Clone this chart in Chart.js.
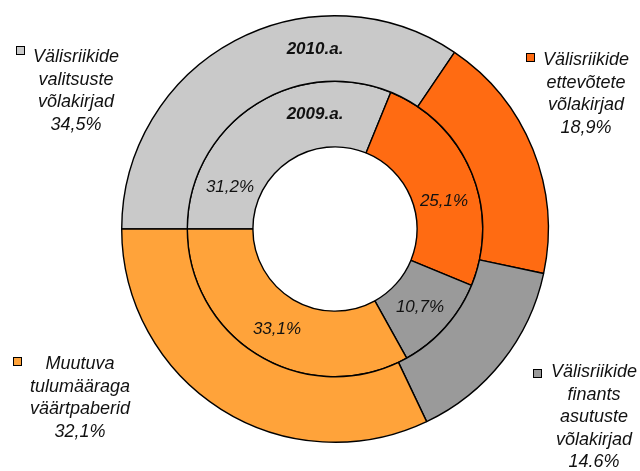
<!DOCTYPE html>
<html>
<head>
<meta charset="utf-8">
<script src="https://cdn.jsdelivr.net/npm/chart.js@4/dist/chart.umd.min.js"></script>
<style>
  html, body { margin: 0; padding: 0; background: #fff; }
  #wrap { width: 640px; height: 471px; }
</style>
</head>
<body>
<div id="wrap"><canvas id="chart" width="640" height="471"></canvas></div>
<script>
// data
const years = ['2010.a.', '2009.a.'];
const categories = [
  ['Välisriikide', 'valitsuste', 'võlakirjad'],
  ['Välisriikide', 'ettevõtete', 'võlakirjad'],
  ['Välisriikide', 'finants', 'asutuste', 'võlakirjad'],
  ['Muutuva', 'tulumääraga', 'väärtpaberid']
];
const values2010 = [34.5, 18.9, 14.6, 32.1];
const values2009 = [31.2, 25.1, 10.7, 33.1];
const labels2010 = ['34,5%', '18,9%', '14.6%', '32,1%'];
const labels2009 = ['31,2%', '25,1%', '10,7%', '33,1%'];
const colors = ['#C9C9C9', '#FF6B12', '#9A9A9A', '#FFA33A'];

const FONT = '"Liberation Sans", Arial, sans-serif';

// where excel put the text (outer captions in canvas px, inner ones relative to centre)
const captionPos = [
  { marker: [16, 46], x: 76, y: 62 },
  { marker: [526, 53], x: 586, y: 65 },
  { marker: [533, 369], x: 594, y: 377 },
  { marker: [13, 357], x: 80, y: 369 }
];
const innerPos = [[-105, -37], [109, -23], [85, 83], [-58, 105]];
const yearPos = [[-20, -175], [-20, -110]];

const textPlugin = {
  id: 'texts',
  afterDatasetsDraw(chart) {
    const ctx = chart.ctx;
    const arc = chart.getDatasetMeta(0).data[0];
    const cx = arc.x, cy = arc.y;
    ctx.save();
    ctx.fillStyle = '#111';
    ctx.textAlign = 'center';
    ctx.textBaseline = 'alphabetic';

    ctx.font = 'italic bold 17px ' + FONT;
    years.forEach((y, i) => ctx.fillText(y, cx + yearPos[i][0], cy + yearPos[i][1]));

    ctx.font = 'italic 17px ' + FONT;
    labels2009.forEach((t, i) => ctx.fillText(t, cx + innerPos[i][0], cy + innerPos[i][1]));

    ctx.font = 'italic 18px ' + FONT;
    categories.forEach((lines, i) => {
      const p = captionPos[i];
      ctx.fillStyle = colors[i];
      ctx.fillRect(p.marker[0], p.marker[1], 9, 9);
      ctx.strokeStyle = '#000';
      ctx.lineWidth = 1;
      ctx.strokeRect(p.marker[0] + 0.5, p.marker[1] + 0.5, 8, 8);
      ctx.fillStyle = '#111';
      lines.concat([labels2010[i]]).forEach((t, j) => {
        ctx.fillText(t, p.x, p.y + j * 22.5);
      });
    });
    ctx.restore();
  }
};

new Chart(document.getElementById('chart'), {
  type: 'doughnut',
  data: {
    labels: categories.map(c => c.join(' ')),
    datasets: [
      { label: years[0], data: values2010, backgroundColor: colors, borderColor: '#000', borderWidth: 1.4 },
      { label: years[1], data: values2009, backgroundColor: colors, borderColor: '#000', borderWidth: 1.4 }
    ]
  },
  options: {
    responsive: false,
    animation: false,
    devicePixelRatio: 1,
    rotation: -90,
    cutout: '38.5%',
    layout: { padding: { left: 121, right: 91, top: 14, bottom: 27 } },
    plugins: {
      legend: { display: false },
      tooltip: { enabled: false }
    }
  },
  plugins: [textPlugin]
});
</script>
</body>
</html>
